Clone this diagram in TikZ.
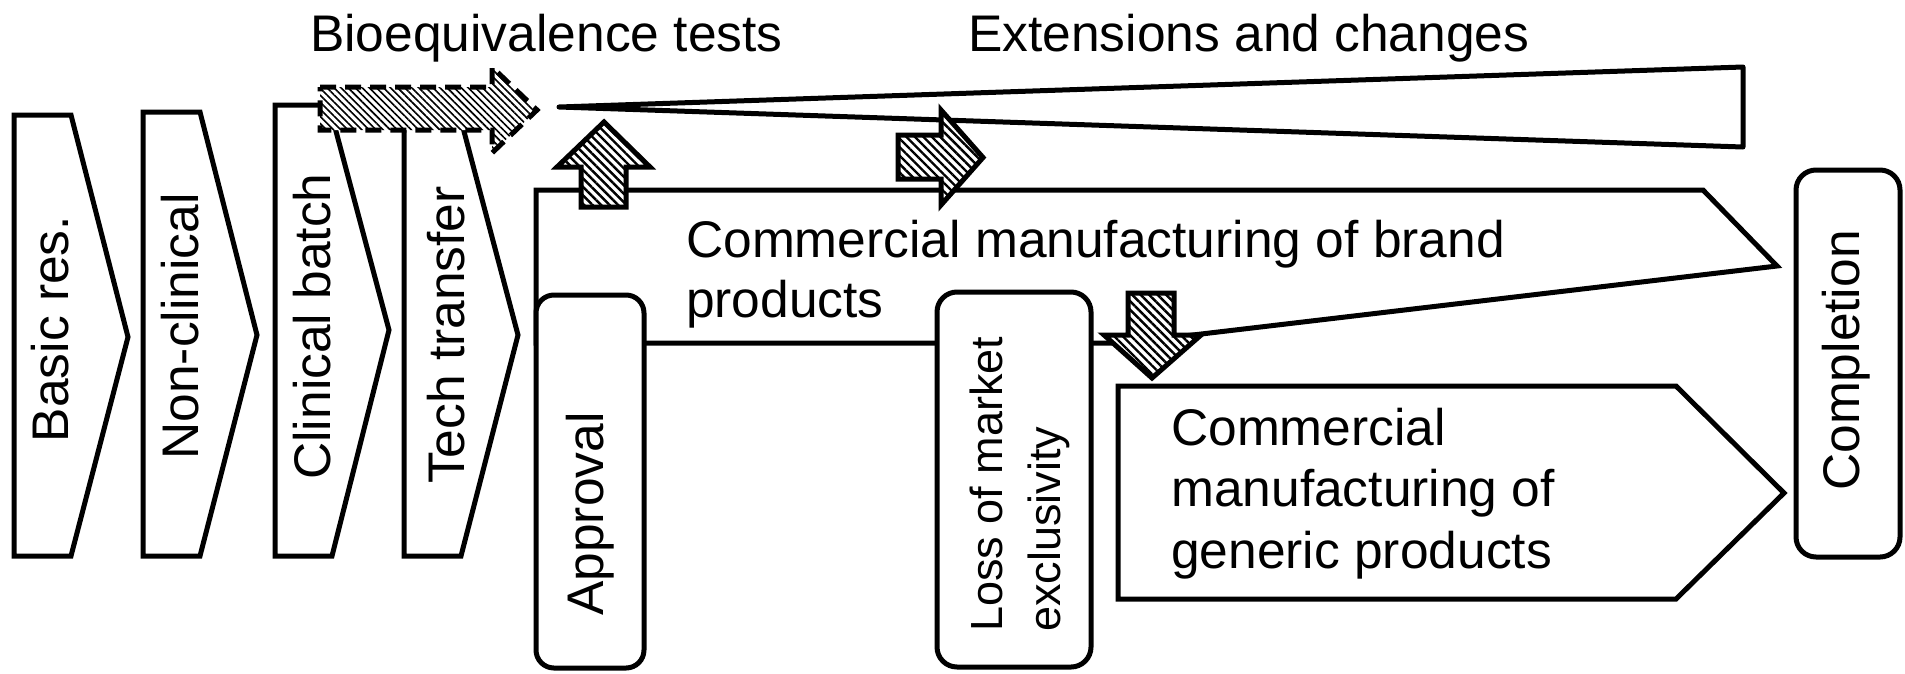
\documentclass[tikz,border=0pt]{standalone}
\usepackage{fontspec}
\setmainfont{Liberation Sans}
\usetikzlibrary{patterns.meta}
\tikzset{
  shapeline/.style={draw=black, line width=5pt, fill=white, line join=miter},
  hatched/.style={draw=black, line width=5pt, line join=miter, preaction={fill=white},
    pattern={Lines[angle=-45,distance=6pt,line width=2.4pt]}},
  dashedarrow/.style={draw=black, line width=5pt, line join=miter, dash pattern=on 16pt off 9pt,
    preaction={fill=white}, pattern={Lines[angle=-45,distance=5pt,line width=1.6pt]}},
  lbl/.style={inner sep=0pt, font=\fontsize{51.5}{59.5}\selectfont},
  vlbl/.style={lbl, rotate=90, anchor=base},
}
\begin{document}
\begin{tikzpicture}[x=1pt,y=-1pt]
\useasboundingbox (0,0) rectangle (1905,673);
% extensions wedge
\draw[shapeline, line join=round] (559,107) -- (1743,67) -- (1743,147) -- cycle;
% brand manufacturing pentagon
\draw[shapeline] (536,190) -- (1703,190) -- (1777,266) -- (1125,343) -- (536,343) -- cycle;
% development chevrons
\draw[shapeline] (14,115) -- (71,115) -- (128,337) -- (71,556) -- (14,556) -- cycle;
\draw[shapeline] (143,112) -- (200,112) -- (257,335) -- (200,556) -- (143,556) -- cycle;
\draw[shapeline] (275,105) -- (329,105) -- (389,330) -- (332,556) -- (275,556) -- cycle;
\draw[shapeline] (404,105) -- (457,105) -- (518,335) -- (461,556) -- (404,556) -- cycle;
% bioequivalence dashed arrow
\draw[dashedarrow] (320,87) -- (492,87) -- (492,67) -- (537,110) -- (492,153) -- (492,130) -- (320,130) -- cycle;
% approval and loss of exclusivity
\draw[shapeline, rounded corners=18pt] (536,295) rectangle (644,668);
\draw[shapeline, rounded corners=20pt] (937,292) rectangle (1091,667);
% generic manufacturing pentagon
\draw[shapeline] (1118,386) -- (1676,386) -- (1784,493) -- (1676,599) -- (1118,599) -- cycle;
% completion
\draw[shapeline, rounded corners=20pt] (1796,170) rectangle (1900,557);
% hatched block arrows
\draw[hatched] (581,207) -- (581,167) -- (557,167) -- (604,122) -- (650,167) -- (626,167) -- (626,207) -- cycle;
\draw[hatched] (898,135) -- (941,135) -- (941,110) -- (983,157.5) -- (941,205) -- (941,179) -- (898,179) -- cycle;
\draw[hatched] (1128,293) -- (1174,293) -- (1174,335) -- (1201,335) -- (1152,378) -- (1104,335) -- (1128,335) -- cycle;
% labels
\node[lbl, anchor=base west] (bio) at (310,51) {Bioequivalence tests};
\node[lbl, anchor=base west] (ext) at (968,51) {Extensions and changes};
\node[lbl, anchor=base west, align=left] (brand) at (686,317) {Commercial manufacturing of brand\\products};
\node[lbl, anchor=base west, align=left, font=\fontsize{51.5}{61.5}\selectfont] (generic) at (1171,568) {Commercial\\manufacturing of\\generic products};
\node[vlbl] (basic) at (68,329) {Basic res.};
\node[vlbl] (nonclin) at (198,326.5) {Non-clinical};
\node[vlbl] (clin) at (330,326.5) {Clinical batch};
\node[vlbl] (tech) at (464,335) {Tech transfer};
\node[vlbl] (appr) at (603,514) {Approval};
\node[vlbl, anchor=base west, align=left, font=\fontsize{45}{58}\selectfont] (loss) at (1060,632) {Loss of market\\exclusivity};
\node[vlbl] (compl) at (1859,360.5) {Completion};
\end{tikzpicture}
\end{document}
